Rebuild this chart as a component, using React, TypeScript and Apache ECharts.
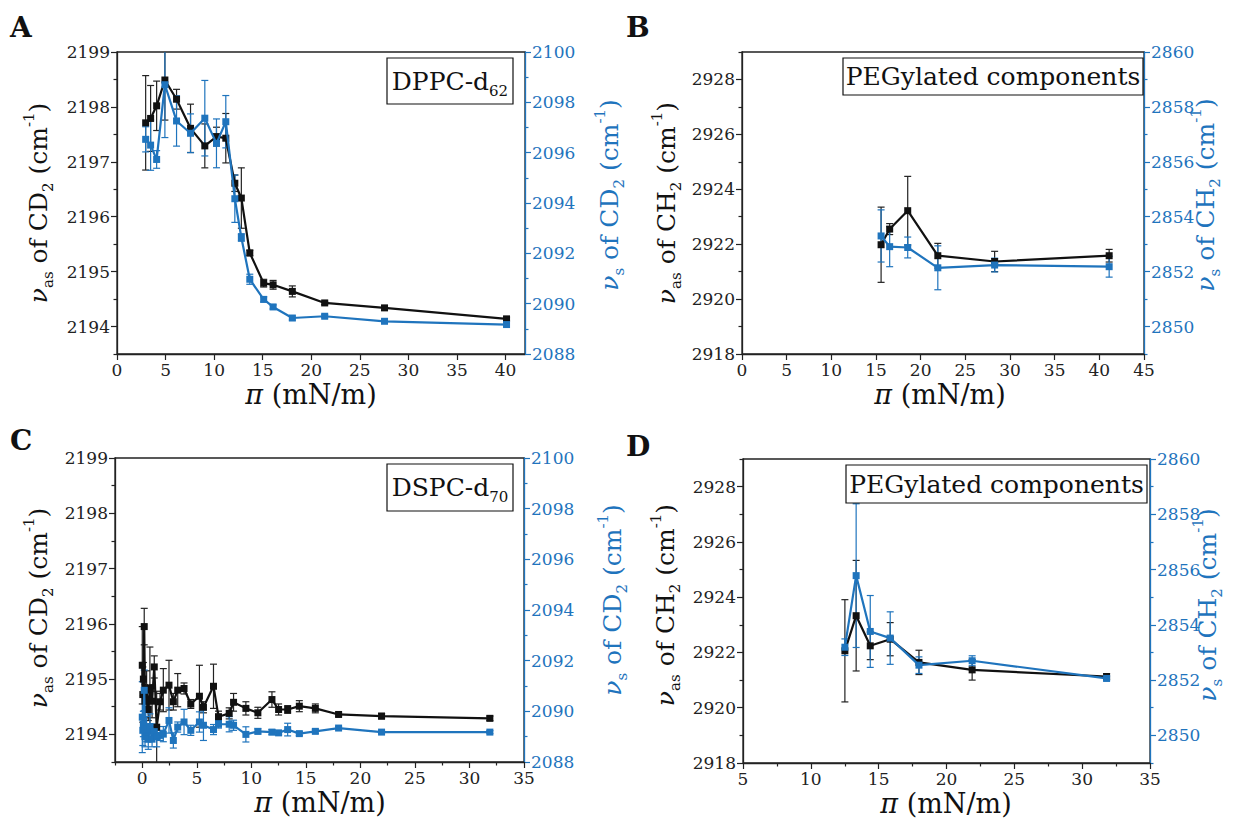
import React, { useEffect, useRef } from "react";
import * as echarts from "echarts";

const FONT = '"DejaVu Serif", serif';
const BLACK = "#111111";
const BLUE = "#1f74bd";

// ---------- Panel A : DPPC-d62 ----------
const aPi = [2.95, 3.46, 4.08, 4.93, 6.13, 7.57, 9.04, 10.24, 11.2, 12.13, 12.8, 13.67, 15.1, 16.07, 18.05, 21.38, 27.54, 40.1];
const aVas = [2197.71, 2197.79, 2198.02, 2198.49, 2198.14, 2197.61, 2197.29, 2197.46, 2197.43, 2196.61, 2196.34, 2195.34, 2194.79, 2194.76, 2194.64, 2194.43, 2194.34, 2194.14];
const aVasErr = [0.86, 0.6, 0.45, 0.73, 0.18, 0.44, 0.4, 0.17, 0.45, 0.15, 0.55, 0.05, 0.07, 0.08, 0.1, 0.03, 0.04, 0.03];
const aVs = [2096.53, 2096.3, 2095.73, 2098.7, 2097.26, 2096.77, 2097.37, 2096.37, 2097.23, 2094.17, 2092.63, 2090.97, 2090.17, 2089.87, 2089.43, 2089.5, 2089.3, 2089.17];
const aVsErr = [0.5, 1.0, 0.35, 2.1, 1.0, 0.77, 1.5, 0.97, 1.04, 0.94, 0.15, 0.2, 0.1, 0.08, 0.08, 0.06, 0.06, 0.06];

// ---------- Panel B : PEGylated components ----------
const bPi = [15.57, 16.53, 18.55, 21.92, 28.28, 41.1];
const bVas = [2921.98, 2922.55, 2923.22, 2921.58, 2921.37, 2921.58];
const bVasErr = [1.37, 0.2, 1.25, 0.45, 0.37, 0.23];
const bVs = [2853.3, 2852.91, 2852.88, 2852.14, 2852.24, 2852.18];
const bVsErr = [0.95, 0.73, 0.38, 0.8, 0.25, 0.38];

// ---------- Panel C : DSPC-d70 ----------
const cPi = [0.0, 0.05, 0.1, 0.18, 0.25, 0.4, 0.55, 0.7, 0.9, 1.1, 1.32, 1.63, 1.93, 2.45, 2.85, 3.25, 3.83, 4.45, 5.24, 5.61, 6.53, 6.99, 7.97, 8.37, 9.5, 10.6, 11.89, 12.5, 13.33, 14.4, 15.87, 18.0, 21.94, 31.87];
const cVas = [2195.25, 2194.72, 2195.0, 2195.95, 2194.6, 2194.8, 2194.45, 2194.83, 2194.6, 2195.22, 2194.13, 2194.59, 2194.8, 2194.89, 2194.59, 2194.8, 2194.83, 2194.55, 2194.69, 2194.49, 2194.87, 2194.32, 2194.38, 2194.58, 2194.47, 2194.39, 2194.63, 2194.45, 2194.45, 2194.51, 2194.47, 2194.36, 2194.33, 2194.29];
const cVasErr = [0.7, 0.5, 0.3, 0.33, 0.3, 0.35, 0.2, 0.75, 0.3, 0.2, 0.65, 0.15, 0.39, 0.45, 0.15, 0.3, 0.1, 0.08, 0.56, 0.1, 0.4, 0.1, 0.1, 0.16, 0.12, 0.1, 0.14, 0.1, 0.07, 0.1, 0.08, 0.03, 0.05, 0.04];
const cVs = [2089.77, 2089.25, 2089.5, 2090.83, 2089.0, 2089.3, 2088.9, 2089.4, 2088.9, 2089.2, 2089.0, 2089.05, 2089.1, 2089.64, 2088.85, 2089.38, 2089.58, 2089.25, 2089.58, 2089.45, 2089.28, 2089.49, 2089.49, 2089.45, 2089.09, 2089.21, 2089.18, 2089.15, 2089.28, 2089.12, 2089.21, 2089.34, 2089.18, 2089.18];
const cVsErr = [1.4, 0.6, 0.5, 0.8, 0.4, 0.5, 0.4, 0.5, 0.3, 0.3, 0.4, 0.2, 0.3, 0.5, 0.3, 0.2, 0.5, 0.2, 0.4, 0.6, 0.2, 0.15, 0.3, 0.2, 0.3, 0.1, 0.1, 0.08, 0.25, 0.08, 0.08, 0.06, 0.06, 0.06];

// ---------- Panel D : PEGylated components ----------
const dPi = [12.51, 13.34, 14.38, 15.85, 17.97, 21.89, 31.8];
const dVas = [2922.06, 2923.33, 2922.24, 2922.48, 2921.64, 2921.37, 2921.13];
const dVasErr = [1.85, 2.0, 0.5, 0.6, 0.44, 0.37, 0.1];
const dVs = [2853.19, 2855.78, 2853.76, 2853.52, 2852.54, 2852.7, 2852.06];
const dVsErr = [0.3, 2.6, 1.3, 0.95, 0.3, 0.18, 0.08];

// ---------- tick values ----------
const xTicksAB = [0, 5, 10, 15, 20, 25, 30, 35, 40];
const xTicksB = [0, 5, 10, 15, 20, 25, 30, 35, 40, 45];
const xTicksC = [0, 5, 10, 15, 20, 25, 30, 35];
const xMinorC = [-2.5, 2.5, 7.5, 12.5, 17.5, 22.5, 27.5, 32.5];
const xTicksD = [5, 10, 15, 20, 25, 30, 35];
const xMinorD = [7.5, 12.5, 17.5, 22.5, 27.5, 32.5];
const yTicksCD2as = [2194, 2195, 2196, 2197, 2198, 2199];
const yMinorCD2as = [2193.5, 2194.5, 2195.5, 2196.5, 2197.5, 2198.5];
const yTicksCD2s = [2088, 2090, 2092, 2094, 2096, 2098, 2100];
const yMinorCD2s = [2089, 2091, 2093, 2095, 2097, 2099];
const yTicksCH2as = [2918, 2920, 2922, 2924, 2926, 2928];
const yMinorCH2as = [2919, 2921, 2923, 2925, 2927, 2929];
const yTicksCH2s = [2850, 2852, 2854, 2856, 2858, 2860];
const yMinorCH2s = [2849, 2851, 2853, 2855, 2857, 2859];

type Panel = {
  grid: { left: number; top: number; width: number; height: number };
  x: [number, number, number[], number[]];
  yl: [number, number, number[], number[]];
  yr: [number, number, number[], number[]];
  pi: number[];
  vas: number[];
  vasErr: number[];
  vs: number[];
  vsErr: number[];
};

const panels: Panel[] = [
  {
    grid: { left: 117, top: 52, width: 408, height: 302 },
    x: [0, 42, xTicksAB, []],
    yl: [2193.5, 2199, yTicksCD2as, yMinorCD2as],
    yr: [2088, 2100, yTicksCD2s, yMinorCD2s],
    pi: aPi, vas: aVas, vasErr: aVasErr, vs: aVs, vsErr: aVsErr,
  },
  {
    grid: { left: 742, top: 52, width: 402, height: 302 },
    x: [0, 45, xTicksB, []],
    yl: [2918, 2929, yTicksCH2as, yMinorCH2as],
    yr: [2849, 2860, yTicksCH2s, yMinorCH2s],
    pi: bPi, vas: bVas, vasErr: bVasErr, vs: bVs, vsErr: bVsErr,
  },
  {
    grid: { left: 115, top: 458, width: 409, height: 304 },
    x: [-2.5, 35, xTicksC, xMinorC],
    yl: [2193.5, 2199, yTicksCD2as, yMinorCD2as],
    yr: [2088, 2100, yTicksCD2s, yMinorCD2s],
    pi: cPi, vas: cVas, vasErr: cVasErr, vs: cVs, vsErr: cVsErr,
  },
  {
    grid: { left: 743, top: 459, width: 407, height: 304 },
    x: [5, 35, xTicksD, xMinorD],
    yl: [2918, 2929, yTicksCH2as, yMinorCH2as],
    yr: [2849, 2860, yTicksCH2s, yMinorCH2s],
    pi: dPi, vas: dVas, vasErr: dVasErr, vs: dVs, vsErr: dVsErr,
  },
];

function axisPair(gridIndex: number, position: string, spec: [number, number, number[], number[]], color: string) {
  const [min, max, major, minor] = spec;
  const main: any = {
    type: "value", gridIndex, position, min, max,
    axisLine: { show: true, onZero: false, lineStyle: { color, width: 1.3 } },
    axisTick: { show: true, inside: false, length: 6, customValues: major, lineStyle: { color, width: 1.2 } },
    axisLabel: {
      show: true, customValues: major, color, fontFamily: FONT, fontSize: 17, margin: 7,
      formatter: (v: number) => String(v),
    },
    splitLine: { show: false },
  };
  const minorAxis: any = {
    type: "value", gridIndex, position, min, max,
    axisLine: { show: false, onZero: false },
    axisTick: { show: minor.length > 0, inside: false, length: 3.5, customValues: minor.length ? minor : undefined, lineStyle: { color, width: 1.2 } },
    axisLabel: { show: false },
    splitLine: { show: false },
  };
  return [main, minorAxis];
}

function errRender(color: string) {
  return (params: any, api: any) => {
    const x = api.value(0);
    const lo = api.coord([x, api.value(1)]);
    const hi = api.coord([x, api.value(2)]);
    const w = 3.5;
    const st = { stroke: color, lineWidth: 1.2 };
    return {
      type: "group",
      children: [
        { type: "line", shape: { x1: lo[0], y1: lo[1], x2: hi[0], y2: hi[1] }, style: st },
        { type: "line", shape: { x1: lo[0] - w, y1: lo[1], x2: lo[0] + w, y2: lo[1] }, style: st },
        { type: "line", shape: { x1: hi[0] - w, y1: hi[1], x2: hi[0] + w, y2: hi[1] }, style: st },
      ],
    };
  };
}

const titleRich = {
  n: { fontSize: 25, fontFamily: FONT, lineHeight: 34 },
  i: { fontSize: 25, fontFamily: FONT, fontStyle: "italic", lineHeight: 34 },
  sub: { fontSize: 15, fontFamily: FONT, verticalAlign: "bottom", lineHeight: 15 },
  sup: { fontSize: 15, fontFamily: FONT, verticalAlign: "top", lineHeight: 15 },
};
const xTitleRich = {
  n: { fontSize: 27, fontFamily: FONT, lineHeight: 24 },
  i: { fontSize: 27, fontFamily: FONT, fontStyle: "italic", lineHeight: 24 },
};

function yTitle(x: number, y: number, text: string, color: string) {
  return {
    type: "text", x, y, rotation: Math.PI / 2,
    style: { text, rich: titleRich, fill: color, fontSize: 25, fontFamily: FONT, align: "center", verticalAlign: "middle" },
  };
}
function hText(x: number, y: number, text: string, rich: any = titleRich) {
  return {
    type: "text", x, y,
    style: { text, rich, fill: BLACK, fontSize: 25, fontFamily: FONT, align: "center", verticalAlign: "middle" },
  };
}
function letter(x: number, y: number, t: string) {
  return {
    type: "text", x, y,
    style: { text: t, fill: BLACK, fontSize: 28, fontWeight: "bold", fontFamily: FONT, align: "left", verticalAlign: "middle" },
  };
}
function box(x: number, y: number, w: number, h: number, text: string) {
  return [
    { type: "rect", shape: { x, y, width: w, height: h }, style: { fill: "#fff", stroke: BLACK, lineWidth: 1.2 }, z: 10 },
    { ...hText(x + w / 2, y + h / 2, text), z: 11 },
  ];
}

const asCD = "{i|ν}{sub|as}{n| of CD}{sub|2}{n| (cm}{sup|-1}{n|)}";
const sCD = "{i|ν}{sub|s}{n| of CD}{sub|2}{n| (cm}{sup|-1}{n|)}";
const asCH = "{i|ν}{sub|as}{n| of CH}{sub|2}{n| (cm}{sup|-1}{n|)}";
const sCH = "{i|ν}{sub|s}{n| of CH}{sub|2}{n| (cm}{sup|-1}{n|)}";
const piTitle = "{i|π}{n| (mN/m)}";

export default function App() {
  const ref = useRef<HTMLDivElement>(null);
  useEffect(() => {
    if (!ref.current) return;
    const chart = echarts.init(ref.current, undefined, { renderer: "svg" });
    const grids: any[] = [];
    const xAxes: any[] = [];
    const yAxes: any[] = [];
    const series: any[] = [];
    panels.forEach((p, gi) => {
      grids.push({ ...p.grid, show: true, borderColor: "#222", borderWidth: 1.3, backgroundColor: "transparent" });
      xAxes.push(...axisPair(gi, "bottom", p.x, "#222"));
      yAxes.push(...axisPair(gi, "left", p.yl, "#222"));
      yAxes.push(...axisPair(gi, "right", p.yr, BLUE));
      const xi = gi * 2;
      const yl = gi * 4;
      const yr = gi * 4 + 2;
      series.push({
        type: "custom", xAxisIndex: xi, yAxisIndex: yl, clip: true, z: 2,
        data: p.pi.map((x, i) => [x, p.vas[i] - p.vasErr[i], p.vas[i] + p.vasErr[i]]),
        encode: { x: 0, y: [1, 2] }, renderItem: errRender("#222"),
      });
      series.push({
        type: "custom", xAxisIndex: xi, yAxisIndex: yr, clip: true, z: 2,
        data: p.pi.map((x, i) => [x, p.vs[i] - p.vsErr[i], p.vs[i] + p.vsErr[i]]),
        encode: { x: 0, y: [1, 2] }, renderItem: errRender(BLUE),
      });
      series.push({
        type: "line", xAxisIndex: xi, yAxisIndex: yl, z: 3,
        data: p.pi.map((x, i) => [x, p.vas[i]]),
        symbol: "rect", symbolSize: 7, showAllSymbol: true,
        lineStyle: { color: BLACK, width: 2.2 }, itemStyle: { color: BLACK },
      });
      series.push({
        type: "line", xAxisIndex: xi, yAxisIndex: yr, z: 4,
        data: p.pi.map((x, i) => [x, p.vs[i]]),
        symbol: "rect", symbolSize: 7, showAllSymbol: true,
        lineStyle: { color: BLUE, width: 2.2 }, itemStyle: { color: BLUE },
      });
    });

    const graphic: any[] = [
      letter(10, 27, "A"),
      letter(626, 27, "B"),
      letter(10, 440, "C"),
      letter(626, 446, "D"),
      hText(311, 394, piTitle, xTitleRich),
      hText(940, 394, piTitle, xTitleRich),
      hText(320, 802, piTitle, xTitleRich),
      hText(946, 803, piTitle, xTitleRich),
      yTitle(38, 203, asCD, BLACK),
      yTitle(609, 195, sCD, BLUE),
      yTitle(666, 203, asCH, BLACK),
      yTitle(1205, 195, sCH, BLUE),
      yTitle(38, 608, asCD, BLACK),
      yTitle(612, 600, sCD, BLUE),
      yTitle(665, 605, asCH, BLACK),
      yTitle(1207, 605, sCH, BLUE),
      ...box(387, 58, 126, 46, "{n|DPPC-d}{sub|62}"),
      ...box(843, 58, 300, 37, "{n|PEGylated components}"),
      ...box(387, 464, 126, 47, "{n|DSPC-d}{sub|70}"),
      ...box(846, 465, 301, 38, "{n|PEGylated components}"),
    ];

    chart.setOption({
      animation: false,
      backgroundColor: "#ffffff",
      grid: grids,
      xAxis: xAxes,
      yAxis: yAxes,
      series,
      graphic,
    });
    return () => chart.dispose();
  }, []);
  return <div ref={ref} style={{ position: "absolute", left: 0, top: 0, width: 1253, height: 828 }} />;
}
